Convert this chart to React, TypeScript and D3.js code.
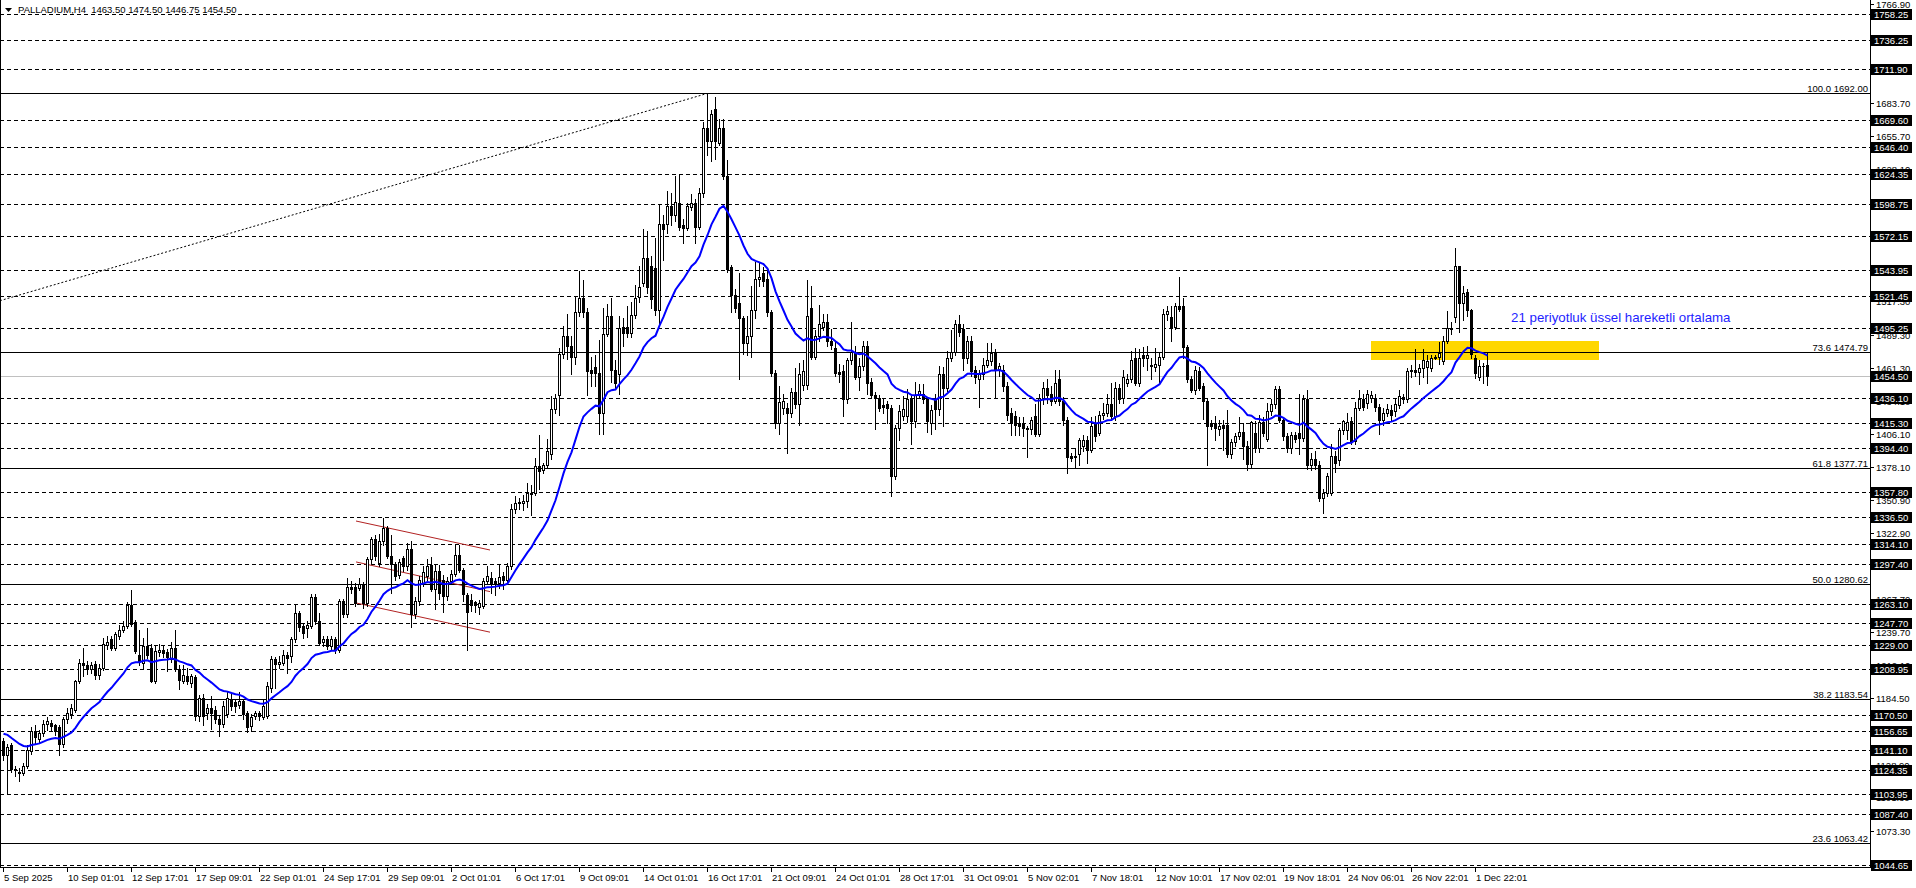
import React from "react";
import * as d3 from "d3";

// ---------------- DATA ----------------
const SYMBOL = "PALLADIUM,H4";
const OPEN = [
  1149,1137,1145,1125,1123,1122,1128,1140,1157,1150,
  1155,1163,1164,1162,1160,1146,1167,1171,1175,1199,
  1214,1212,1209,1213,1204,1210,1229,1234,1227,1237,
  1242,1245,1263,1248,1221,1214,1228,1227,1199,1223,
  1225,1223,1217,1227,1209,1199,1203,1197,1202,1170,
  1185,1172,1176,1175,1167,1163,1171,1184,1181,1179,
  1182,1172,1161,1170,1172,1169,1170,1193,1217,1213,
  1214,1221,1220,1234,1256,1245,1243,1245,1269,1249,
  1232,1234,1228,1234,1225,1266,1255,1278,1278,1277,
  1280,1264,1301,1318,1298,1316,1327,1304,1297,1288,
  1302,1295,1310,1255,1266,1281,1287,1296,1276,1291,
  1284,1270,1283,1289,1305,1292,1271,1267,1265,1261,
  1262,1283,1285,1283,1281,1287,1284,1295,1343,1348,
  1348,1350,1357,1357,1379,1376,1380,1389,1427,1439,
  1473,1488,1480,1471,1508,1520,1508,1460,1462,1457,
  1424,1490,1505,1460,1456,1496,1496,1491,1506,1521,
  1533,1554,1547,1545,1510,1582,1582,1597,1590,1600,
  1581,1579,1596,1600,1580,1608,1663,1652,1679,1650,
  1663,1622,1546,1523,1516,1503,1482,1488,1510,1536,
  1541,1536,1508,1457,1415,1428,1428,1424,1441,1431,
  1447,1447,1512,1471,1488,1496,1500,1484,1478,1458,
  1459,1435,1468,1474,1454,1463,1480,1450,1439,1436,
  1430,1431,1428,1371,1411,1421,1421,1435,1417,1439,
  1440,1435,1415,1435,1427,1456,1445,1470,1475,1498,
  1494,1470,1484,1460,1452,1456,1464,1467,1474,1460,
  1460,1446,1424,1421,1415,1415,1411,1410,1421,1406,
  1436,1445,1440,1434,1452,1434,1418,1388,1387,1389,
  1396,1401,1393,1415,1407,1422,1424,1431,1421,1445,
  1436,1449,1452,1470,1449,1472,1470,1464,1462,1464,
  1471,1507,1504,1496,1513,1513,1479,1452,1443,1459,
  1446,1434,1415,1415,1410,1414,1414,1389,1399,1404,
  1408,1396,1381,1407,1394,1416,1402,1425,1431,1444,
  1418,1404,1394,1405,1407,1403,1435,1380,1385,1380,
  1352,1357,1357,1388,1384,1409,1409,1417,1400,1428,
  1435,1432,1436,1436,1429,1418,1424,1426,1425,1430,
  1437,1435,1459,1460,1458,1461,1462,1461,1470,1471,
  1467,1484,1494,1504,1547,1516,1525,1510,1470,1454,
  1463,1463.5,
];
const HIGH = [
  1151,1146,1147,1128,1126,1130,1145,1160,1162,1158,
  1166,1169,1166,1163,1162,1169,1176,1180,1200,1217,
  1227,1216,1215,1216,1213,1235,1237,1237,1240,1246,
  1249,1265,1275,1250,1242,1235,1243,1230,1228,1230,
  1229,1226,1232,1242,1212,1212,1210,1205,1204,1187,
  1188,1180,1186,1178,1170,1182,1190,1188,1183,1190,
  1184,1174,1171,1174,1174,1183,1198,1220,1219,1220,
  1225,1223,1236,1263,1258,1247,1249,1272,1272,1256,
  1237,1237,1237,1236,1268,1268,1285,1283,1281,1285,
  1282,1303,1320,1321,1322,1336,1329,1321,1299,1301,
  1304,1315,1316,1269,1287,1295,1301,1303,1297,1296,
  1288,1286,1292,1313,1313,1294,1273,1272,1266,1267,
  1285,1295,1290,1285,1297,1290,1298,1347,1354,1352,
  1355,1365,1363,1386,1405,1382,1402,1438,1440,1478,
  1497,1507,1488,1521,1543,1535,1512,1471,1472,1485,
  1512,1515,1520,1468,1505,1503,1513,1517,1531,1547,
  1578,1576,1555,1570,1599,1590,1610,1608,1622,1623,
  1586,1600,1607,1603,1612,1668,1692,1678,1689,1670,
  1670,1636,1548,1528,1541,1505,1505,1530,1550,1550,
  1546,1545,1510,1460,1446,1440,1432,1445,1461,1466,
  1468,1535,1530,1493,1514,1507,1507,1494,1484,1465,
  1464,1470,1500,1480,1470,1484,1484,1453,1441,1439,
  1435,1434,1430,1414,1430,1438,1444,1440,1450,1448,
  1448,1437,1430,1440,1463,1462,1476,1493,1502,1506,
  1498,1488,1488,1463,1460,1470,1482,1482,1477,1466,
  1464,1450,1428,1425,1420,1420,1413,1420,1431,1440,
  1450,1452,1446,1460,1460,1437,1420,1390,1394,1403,
  1405,1404,1420,1421,1425,1432,1440,1449,1450,1448,
  1460,1456,1476,1478,1477,1479,1480,1470,1478,1474,
  1511,1513,1513,1516,1538,1520,1481,1455,1463,1462,
  1449,1436,1418,1421,1418,1418,1426,1402,1407,1420,
  1415,1400,1417,1417,1422,1420,1432,1435,1446,1446,
  1420,1407,1408,1408,1440,1439,1443,1390,1392,1383,
  1360,1373,1398,1392,1411,1418,1424,1420,1433,1443,
  1440,1443,1442,1440,1431,1428,1431,1430,1435,1443,
  1440,1461,1464,1477,1465,1477,1472,1472,1472,1483,
  1488,1509,1500,1562,1547,1530,1528,1511,1472,1468,
  1466,1474.5,
];
const LOW = [
  1133,1105,1123,1119,1115,1120,1126,1138,1146,1148,
  1153,1158,1158,1154,1137,1144,1164,1168,1173,1197,
  1203,1205,1206,1201,1201,1208,1226,1225,1225,1234,
  1240,1243,1245,1222,1212,1210,1218,1198,1197,1220,
  1219,1207,1215,1207,1192,1197,1196,1194,1166,1165,
  1162,1167,1159,1164,1153,1160,1169,1175,1173,1176,
  1167,1156,1157,1167,1166,1167,1168,1190,1193,1210,
  1212,1206,1215,1232,1241,1235,1236,1243,1247,1229,
  1228,1226,1226,1222,1223,1253,1253,1273,1262,1275,
  1260,1262,1298,1300,1295,1313,1302,1273,1284,1285,
  1291,1292,1244,1252,1263,1279,1284,1274,1259,1268,
  1257,1267,1280,1287,1290,1266,1225,1258,1257,1255,
  1260,1280,1273,1271,1277,1276,1281,1293,1340,1343,
  1342,1345,1338,1355,1360,1373,1378,1385,1424,1422,
  1470,1469,1456,1465,1505,1504,1439,1446,1446,1406,
  1406,1488,1450,1444,1440,1480,1487,1487,1503,1517,
  1530,1524,1512,1506,1497,1552,1575,1581,1585,1577,
  1566,1577,1594,1566,1578,1605,1640,1635,1637,1648,
  1620,1542,1508,1508,1452,1473,1472,1471,1503,1530,
  1530,1505,1455,1411,1406,1423,1390,1420,1428,1414,
  1443,1444,1469,1469,1484,1493,1480,1477,1455,1450,
  1421,1432,1465,1452,1443,1460,1440,1437,1410,1425,
  1424,1415,1354,1368,1401,1418,1416,1398,1412,1437,
  1432,1408,1406,1410,1422,1413,1442,1467,1472,1488,
  1460,1466,1455,1449,1429,1452,1462,1464,1437,1455,
  1442,1418,1405,1405,1405,1404,1387,1406,1404,1404,
  1431,1432,1430,1432,1430,1414,1373,1383,1378,1380,
  1392,1382,1391,1400,1405,1419,1421,1418,1418,1432,
  1432,1446,1450,1447,1446,1463,1460,1452,1459,1450,
  1469,1502,1484,1494,1509,1470,1450,1441,1440,1443,
  1419,1380,1410,1401,1405,1393,1387,1386,1396,1402,
  1385,1376,1378,1391,1391,1404,1400,1422,1428,1416,
  1401,1391,1390,1399,1389,1400,1377,1376,1377,1350,
  1340,1354,1355,1374,1380,1406,1402,1398,1398,1426,
  1426,1428,1433,1425,1406,1414,1421,1418,1421,1428,
  1432,1433,1454,1455,1448,1454,1449,1459,1469,1465,
  1465,1482,1490,1500,1492,1502,1505,1470,1453,1451,
  1449,1446.75,
];
const CLOSE = [
  1137,1144,1125,1124,1122,1128,1141,1157,1152,1155,
  1163,1165,1161,1157,1146,1167,1172,1176,1199,1214,
  1212,1209,1212,1204,1210,1230,1232,1227,1238,1242,
  1245,1263,1247,1224,1216,1228,1221,1199,1224,1225,
  1222,1219,1227,1209,1200,1204,1199,1203,1170,1185,
  1170,1176,1172,1167,1163,1178,1185,1178,1178,1182,
  1171,1160,1169,1172,1170,1178,1195,1217,1213,1215,
  1221,1218,1234,1256,1244,1239,1246,1269,1249,1231,
  1234,1228,1234,1225,1266,1255,1278,1276,1264,1280,
  1264,1301,1318,1304,1316,1327,1304,1297,1287,1299,
  1295,1310,1255,1266,1284,1290,1295,1276,1291,1273,
  1270,1283,1289,1305,1292,1272,1257,1263,1263,1264,
  1283,1287,1280,1281,1286,1284,1295,1343,1348,1349,
  1350,1357,1356,1379,1375,1380,1392,1427,1436,1473,
  1488,1480,1471,1508,1520,1508,1459,1457,1457,1424,
  1490,1505,1460,1449,1495,1491,1491,1506,1520,1529,
  1554,1529,1519,1510,1582,1578,1597,1590,1601,1580,
  1579,1597,1600,1580,1608,1663,1652,1674,1652,1663,
  1622,1544,1523,1512,1503,1482,1488,1510,1536,1538,
  1534,1508,1457,1415,1433,1434,1424,1441,1431,1456,
  1459,1505,1471,1488,1498,1500,1484,1481,1457,1456,
  1435,1468,1475,1454,1463,1480,1449,1439,1436,1428,
  1429,1428,1371,1411,1425,1427,1435,1417,1439,1442,
  1435,1417,1426,1427,1456,1445,1470,1475,1498,1492,
  1470,1484,1459,1454,1456,1464,1468,1474,1460,1463,
  1446,1422,1415,1414,1413,1411,1410,1418,1406,1436,
  1445,1439,1434,1449,1434,1418,1387,1386,1388,1401,
  1401,1393,1413,1404,1422,1424,1431,1421,1445,1435,
  1454,1452,1468,1449,1470,1470,1472,1463,1465,1471,
  1507,1509,1496,1513,1511,1479,1452,1443,1460,1445,
  1434,1413,1413,1411,1413,1411,1389,1399,1404,1408,
  1396,1381,1416,1394,1416,1407,1425,1431,1444,1418,
  1404,1394,1405,1402,1403,1435,1380,1385,1380,1352,
  1357,1371,1388,1382,1409,1417,1416,1400,1428,1435,
  1429,1440,1439,1429,1418,1424,1427,1422,1431,1438,
  1435,1459,1460,1458,1461,1468,1467,1470,1471,1474,
  1484,1495,1494,1547,1516,1524,1510,1473,1457,1463,
  1463,1454.5,
];

const TIME_LABELS = [
  "5 Sep 2025", "10 Sep 01:01", "12 Sep 17:01", "17 Sep 09:01", "22 Sep 01:01",
  "24 Sep 17:01", "29 Sep 09:01", "2 Oct 01:01", "6 Oct 17:01", "9 Oct 09:01",
  "14 Oct 01:01", "16 Oct 17:01", "21 Oct 09:01", "24 Oct 01:01", "28 Oct 17:01",
  "31 Oct 09:01", "5 Nov 02:01", "7 Nov 18:01", "12 Nov 10:01", "17 Nov 02:01",
  "19 Nov 18:01", "24 Nov 06:01", "26 Nov 22:01", "1 Dec 22:01",
];
const BARS_PER_TIME_LABEL = 16;

// price scale ticks that show (fully or partly) beside the line labels
const PRICE_TICKS = [
  1766.9, 1683.7, 1655.7, 1628.1, 1517.3, 1489.3, 1461.3, 1434.1, 1406.1,
  1378.1, 1350.9, 1322.9, 1295.3, 1267.7, 1239.7, 1212.1, 1184.5, 1128.9,
  1101.3, 1073.3,
];
const LEVEL_LINES = [
  1758.25, 1736.25, 1711.9, 1669.6, 1646.4, 1624.35, 1598.75, 1572.15, 1543.95,
  1521.45, 1495.25, 1436.1, 1415.3, 1394.4, 1357.8, 1336.5, 1314.1, 1297.4,
  1263.1, 1247.7, 1229.0, 1208.95, 1170.5, 1156.65, 1141.1, 1124.35, 1103.95,
  1087.4, 1044.65,
];
const BID_PRICE = 1454.5;
const FIB_LEVELS = ["23.6", "38.2", "50.0", "61.8", "73.6", "100.0"];
const FIB_PRICES = [1063.42, 1183.54, 1280.62, 1377.71, 1474.79, 1692.0];
// fib trend line: [bar, price] endpoints
const FIB_TREND = [[-661, 869.25], [176, 1692.0]];
// channel lines: [bar0, price0, bar1, price1]
const CHANNEL = [
  [88.25, 1333.5, 121.75, 1309.2],
  [88.25, 1299.2, 121.75, 1274.3],
  [88.25, 1264.8, 121.75, 1240.3],
];
// highlighted zone: [bar0, bar1, priceLow, priceHigh]
const ZONE = [342, 399, 1467.7, 1483.9];
const NOTE_TEXT = "21 periyotluk üssel hareketli ortalama";
const NOTE_POS = [377, 1500.1];
const EMA_PERIOD = 21;
const EMA_SEED = 1157;

// ---------------- CHART ----------------
const W = 1916;
const H = 888;
const PLOT_R = 1870;
const PLOT_B = 867;
const FONT = "'Liberation Sans', Arial, sans-serif";

export default function App() {
  const n = CLOSE.length;
  const x = d3.scaleLinear().domain([0, 1]).range([3, 7]);
  const y = d3.scaleLinear().domain([1043.38, 1770.41]).range([PLOT_B, 0]);
  const ry = (p: number) => Math.floor(y(p));
  const ly = (p: number) => Math.floor(y(p)) + 0.5;

  // EMA
  const k = 2 / (EMA_PERIOD + 1);
  const ema: number[] = [];
  let prev = EMA_SEED;
  for (let i = 0; i < n; i++) {
    prev = prev + k * (CLOSE[i] - prev);
    ema.push(prev);
  }
  const emaLine = d3
    .line<number>()
    .x((_, i) => x(i) + 0.5)
    .y((d) => y(d));

  const candles = d3.range(n).map((i) => {
    const o = OPEN[i], h = HIGH[i], l = LOW[i], c = CLOSE[i];
    const cx = Math.round(x(i));
    const yh = ry(h), yl = ry(l);
    const yt = ry(Math.max(o, c)), yb = ry(Math.min(o, c));
    const bull = c > o;
    const bh = Math.max(1, yb - yt + 1);
    return (
      <g key={i}>
        <rect x={cx} y={yh} width={1} height={yl - yh + 1} fill="#000" />
        <rect x={cx - 1} y={yt} width={3} height={bh} fill="#000" />
        {bull && bh > 2 && (
          <rect x={cx} y={yt + 1} width={1} height={bh - 2} fill="#fff" />
        )}
      </g>
    );
  });

  const fx = (b: number) => x(b);

  return (
    <>
      <style>{"body{margin:0;background:#fff}"}</style>
      <svg
        width={W}
        height={H}
        style={{ display: "block", background: "#fff" }}
        fontFamily={FONT}
      >
        <defs>
          <clipPath id="plot">
            <rect x={0} y={0} width={PLOT_R} height={PLOT_B} />
          </clipPath>
        </defs>
        <g clipPath="url(#plot)" shapeRendering="crispEdges">
          <rect
            x={Math.round(fx(ZONE[0]))}
            y={ry(ZONE[3])}
            width={Math.round(fx(ZONE[1]) - fx(ZONE[0]))}
            height={ry(ZONE[2]) - ry(ZONE[3])}
            fill="#FFD700"
          />
          {LEVEL_LINES.map((p) => (
            <line key={p} x1={0} x2={PLOT_R} y1={ly(p)} y2={ly(p)} stroke="#000" strokeDasharray="4 3" />
          ))}
          {FIB_PRICES.map((p) => (
            <line key={p} x1={0} x2={PLOT_R} y1={ly(p)} y2={ly(p)} stroke="#000" />
          ))}
          <line x1={0} x2={PLOT_R} y1={ly(BID_PRICE)} y2={ly(BID_PRICE)} stroke="#C0C0C0" />
        </g>
        <g clipPath="url(#plot)">
          <line
            x1={fx(FIB_TREND[0][0])}
            y1={y(FIB_TREND[0][1])}
            x2={fx(FIB_TREND[1][0])}
            y2={y(FIB_TREND[1][1])}
            stroke="#000"
            strokeDasharray="2 2"
          />
          {CHANNEL.map((c, i) => (
            <line key={i} x1={fx(c[0])} y1={y(c[1])} x2={fx(c[2])} y2={y(c[3])} stroke="#B22222" />
          ))}
          <g shapeRendering="crispEdges">{candles}</g>
          <path d={emaLine(ema) || ""} fill="none" stroke="#0000FF" strokeWidth={2} />
          <text x={fx(NOTE_POS[0])} y={y(NOTE_POS[1])} fontSize={13.3} fill="#1E1EFF">
            {NOTE_TEXT}
          </text>
          {FIB_PRICES.map((p, i) => (
            <text key={p} x={1868} y={ry(p) - 1} fontSize={9.5} textAnchor="end" fill="#000">
              {FIB_LEVELS[i]} {p.toFixed(2)}
            </text>
          ))}
        </g>

        {/* header */}
        <path d="M5,8 L12,8 L8.5,12 Z" fill="#000" />
        <text x={18} y={13} fontSize={9.5} fill="#000" style={{ whiteSpace: "pre" }}>
          {`${SYMBOL}  ${OPEN[n - 1].toFixed(2)} ${HIGH[n - 1].toFixed(2)} ${LOW[n - 1].toFixed(2)} ${CLOSE[n - 1].toFixed(2)}`}
        </text>

        {/* borders */}
        <g shapeRendering="crispEdges">
          <line x1={0.5} x2={0.5} y1={0} y2={PLOT_B} stroke="#000" />
          <line x1={PLOT_R + 0.5} x2={PLOT_R + 0.5} y1={0} y2={PLOT_B + 1} stroke="#000" />
          <line x1={0} x2={PLOT_R + 1} y1={PLOT_B + 0.5} y2={PLOT_B + 0.5} stroke="#000" />
        </g>

        {/* price axis ticks */}
        {PRICE_TICKS.map((p) => (
          <g key={p}>
            <line x1={PLOT_R + 1} x2={PLOT_R + 4} y1={ly(p)} y2={ly(p)} stroke="#000" shapeRendering="crispEdges" />
            <text x={1876} y={ry(p) + 4} fontSize={9.5} fill="#000">
              {p.toFixed(2)}
            </text>
          </g>
        ))}
        {[...LEVEL_LINES, BID_PRICE].map((p) => (
          <g key={"b" + p}>
            <rect x={PLOT_R + 1} y={ry(p) - 5} width={41} height={11} fill="#000" shapeRendering="crispEdges" />
            <text x={1874} y={ry(p) + 4} fontSize={9.5} fill="#fff">
              {p.toFixed(2)}
            </text>
          </g>
        ))}

        {/* time axis */}
        {TIME_LABELS.map((t, j) => {
          const xx = Math.round(x(j * BARS_PER_TIME_LABEL));
          return (
            <g key={t}>
              <line x1={xx + 0.5} x2={xx + 0.5} y1={PLOT_B + 1} y2={PLOT_B + 5} stroke="#000" shapeRendering="crispEdges" />
              <text x={xx + 1} y={PLOT_B + 14} fontSize={9.5} fill="#000">
                {t}
              </text>
            </g>
          );
        })}
      </svg>
    </>
  );
}
